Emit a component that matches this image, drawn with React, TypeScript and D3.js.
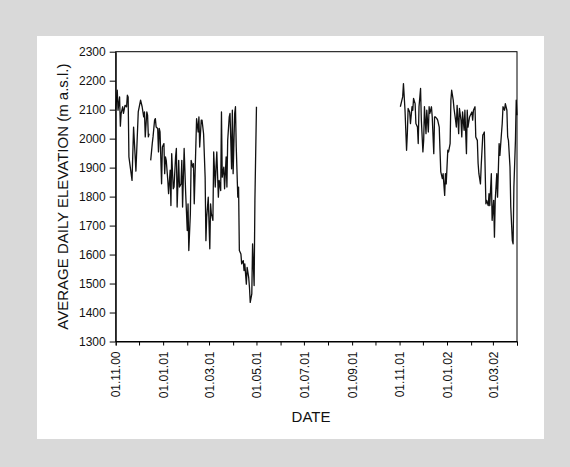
import * as d3 from 'd3'
import React from 'react'

// days counted from 01.11.2000, elevation in m a.s.l.; null = missing day
const winter1Days = [
  0, 2, 3, 5, 6, 7, 9, 10, 12, 14, 15, 16, 17, 21, 23, 26, 29, 32, 34, 36, 37, 38, 40, 41, 42, 43, 44,
  45, 47, 48, 50, 51, 52, 54, 55, 56, 57, 59, 60, 62, 63, 64, 65, 67, 68, 70, 71, 72, 74, 75, 77, 78,
  79, 81, 82, 84, 85, 86, 88, 90, 92, 93, 94, 96, 97, 99, 100, 101, 103, 104, 106, 107, 108, 110, 111,
  113, 115, 116, 117, 119, 121, 122, 123, 125, 126, 128, 129, 130, 132, 133, 135, 136, 137, 139, 140,
  142, 143, 144, 146, 147, 149, 150, 151, 153, 154, 155, 157, 158, 159, 161, 162, 164, 165, 166, 168,
  169, 171, 172, 173, 175, 176, 178, 179, 181,
]
const winter1Elev = [
  2100, 2167, 2098, 2144, 2043, 2087, 2110, 2087, 2115, 2110, 2150, 2144, 1937, 1856, 2040, 1888, 2092,
  2133, 2110, 2075, 2092, 2006, 2092, 2081, 2006, 2017, null,
  1925, 1983, 2006, 2064, 2069, 2040, 2035, 1954, 2035, 2023, 1844, 1971, 1983, 1879, 1937, 1925, 1856,
  1810, 1891, 1769, 1948, 1827, 1833, 1937, 1966, 1764, 1925, 1833, 1844, 1925, 1764, 1966, 1810, 1683,
  1775, 1614, 1741, 1925, 1902, 1914, 1775, 1971, 2069, 2023, 2075, 1971, 2064, 2064, 2017, 1867, 1648,
  1729, 1798, 1620, 1775, 1741, 1718, 1954, 1833, 1902, 1954, 1798, 1856, 1821, 2092, 1867, 1902, 1827,
  1937, 1833, 1994, 2075, 2087, 1896, 2098, 1879, 2087, 2110, 1971, 1798, 1833, 1614, 1602, 1568, 1579,
  1545, 1568, 1498, 1556, 1521, 1487, 1435, 1464, 1637, 1493, 1787, 2110,
]
const winter2Days = [
  366, 368, 369, 370, 372, 374, 375, 376, 378, 379, 381, 382, 383, 385, 386, 388, 389, 390, 392, 393,
  395, 396, 397, 399, 400, 402, 403, 404, 406, 407, 409, 410, 411, 413, 414, 416, 417, 418, 420, 421,
  423, 424, 425, 427, 428, 430, 431, 432, 434, 435, 437, 438, 439, 441, 442, 444, 445, 446, 448, 449,
  451, 452, 453, 455, 456, 458, 459, 460, 462, 463, 465, 466, 467, 469, 470, 472, 473, 474, 476, 477,
  479, 480, 481, 483, 484, 486, 487, 488, 490, 491, 493, 494, 496, 497, 498, 500, 501, 503, 504, 505,
  507, 508, 510, 511, 512, 514, 515, 516,
]
const winter2Elev = [
  2110, 2133, 2144, 2190, 2098, 1960, 2017, 2104, 2092, 2052, 2110, 2098, 2139, 2121, 2052, 2040, 1983,
  2110, 2173, 2064, 1954, 1994, 2110, 2017, 2098, 2023, 2110, 2087, 2110, 2075, 1948, 2075, 2075, 2069,
  2064, 2040, 1960, 1885, 1862, 1879, 1804, 1879, 1844, 1960, 1954, 1983, 2133, 2167, 2133, 2104, 2064,
  2040, 2115, 2017, 2104, 2064, 2006, 2092, 2029, 2098, 1948, 2098, 2040, 2075, 2081, 2092, 2064, 2098,
  2110, 2006, 1994, 1914, 1879, 1844, 1908, 2012, 2017, 2023, 1775, 1787, 1769, 1810, 1769, 1879, 1718,
  1787, 1660, 1787, 1879, 1798, 1983, 1942, 2017, 2052, 2110, 2098, 2121, 2098, 2006, 1994, 1902, 1764,
  1648, 1637, 1833, 1994, 2133, 2081,
]
const yTicks = [1300, 1400, 1500, 1600, 1700, 1800, 1900, 2000, 2100, 2200, 2300]
const startDate = new Date(2000, 10, 1)
const endDate = new Date(2002, 3, 1)

const W = 570, H = 467
const m = { left: 115.7, right: 517, top: 51.7, bottom: 341.5 }
const font = '"Liberation Sans", Arial, sans-serif'

export default function App() {
  const ref = React.useRef<SVGSVGElement>(null)

  React.useEffect(() => {
    const svg = d3.select(ref.current!)
    svg.selectAll('*').remove()

    const
      x = d3.scaleTime().domain([startDate, endDate]).range([m.left, m.right]),
      y = d3.scaleLinear().domain([1300, 2300]).range([m.bottom, m.top])

    svg.append('rect').attr('width', W).attr('height', H).attr('fill', '#d9d9d9')
    svg.append('rect').attr('x', 37).attr('y', 36).attr('width', 507).attr('height', 403).attr('fill', '#fff')

    const line = d3.line<[number, number | null]>()
      .defined(d => d[1] != null)
      .x(d => x(d3.timeDay.offset(startDate, d[0])))
      .y(d => y(d[1] as number))

    const series = [
      winter1Days.map((d, i) => [d, winter1Elev[i]] as [number, number | null]),
      winter2Days.map((d, i) => [d, winter2Elev[i]] as [number, number | null]),
    ]
    svg.selectAll('path.elev').data(series).enter().append('path')
      .attr('class', 'elev')
      .attr('d', d => line(d))
      .attr('fill', 'none')
      .attr('stroke', '#111')
      .attr('stroke-width', 1.3)
      .attr('stroke-linejoin', 'round')

    // frame
    svg.append('rect')
      .attr('x', m.left).attr('y', m.top)
      .attr('width', m.right - m.left).attr('height', m.bottom - m.top)
      .attr('fill', 'none').attr('stroke', '#000').attr('stroke-width', 1)

    const xAxis = d3.axisBottom(x)
      .ticks(d3.timeMonth.every(1))
      .tickSizeOuter(0)
      .tickSize(4)
      .tickFormat(d => ((d as Date).getMonth() % 2 === 0 ? d3.timeFormat('%d.%m.%y')(d as Date) : ''))
    const gx = svg.append('g').attr('transform', `translate(0,${m.bottom})`).call(xAxis)
    gx.selectAll('text')
      .attr('transform', 'rotate(-90)')
      .attr('text-anchor', 'end')
      .attr('x', -10)
      .attr('y', 0)
      .attr('dy', '0.35em')

    const yAxis = d3.axisLeft(y).tickValues(yTicks).tickFormat(d3.format('d'))
      .tickSize(6).tickPadding(4).tickSizeOuter(0)
    svg.append('g').attr('transform', `translate(${m.left},0)`).call(yAxis)

    svg.selectAll('.tick text').attr('font-family', font).attr('font-size', 12).attr('fill', '#111')
    svg.selectAll('.domain, .tick line').attr('stroke', '#000')

    svg.append('text')
      .attr('transform', `translate(68,${(m.top + m.bottom) / 2}) rotate(-90)`)
      .attr('text-anchor', 'middle')
      .attr('font-family', font).attr('font-size', 15).attr('fill', '#111')
      .text('AVERAGE DAILY ELEVATION (m a.s.l.)')

    svg.append('text')
      .attr('x', 311).attr('y', 421.5)
      .attr('text-anchor', 'middle')
      .attr('font-family', font).attr('font-size', 15).attr('fill', '#111')
      .text('DATE')
  }, [])

  return <svg ref={ref} width={W} height={H} style={{ position: 'absolute', left: 0, top: 0 }} />
}
